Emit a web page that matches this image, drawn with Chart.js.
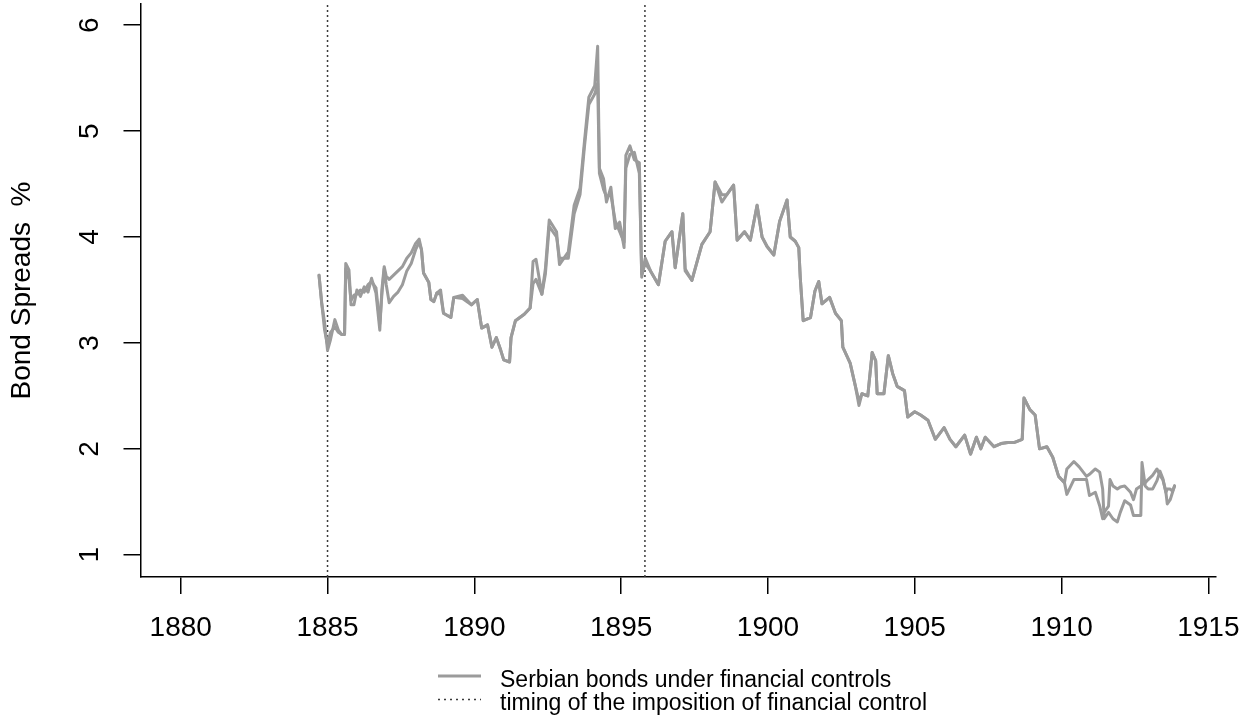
<!DOCTYPE html>
<html>
<head>
<meta charset="utf-8">
<script src="https://cdn.jsdelivr.net/npm/chart.js@4"></script>
<style>
  html, body { margin: 0; padding: 0; background: #fff; }
  canvas { display: block; }
</style>
</head>
<body>
<canvas id="chart" width="1243" height="719"></canvas>
<script>
// dates as decimal years
const years = [
  1884.71, 1884.80, 1884.90, 1885.00, 1885.10, 1885.25, 1885.37, 1885.48, 1885.58, 1885.62,
  1885.73, 1885.80, 1885.90, 1886.00, 1886.12, 1886.25, 1886.38, 1886.50, 1886.65, 1886.78,
  1886.85, 1886.93, 1887.00, 1887.10, 1887.25, 1887.40, 1887.55, 1887.70, 1887.85, 1888.00,
  1888.12, 1888.20, 1888.27, 1888.45, 1888.52, 1888.62, 1888.72, 1888.85, 1888.95, 1889.20,
  1889.30, 1889.60, 1889.90, 1890.10, 1890.25, 1890.45, 1890.60, 1890.75, 1890.90, 1891.00,
  1891.20, 1891.25, 1891.40, 1891.70, 1891.90, 1892.00, 1892.10, 1892.30, 1892.42, 1892.55,
  1892.80, 1892.90, 1893.20, 1893.40, 1893.60, 1893.75, 1893.90, 1894.10, 1894.20, 1894.26,
  1894.40, 1894.50, 1894.65, 1894.80, 1894.95, 1895.10, 1895.16, 1895.30, 1895.45, 1895.62,
  1895.70, 1895.82, 1896.00, 1896.27, 1896.50, 1896.73, 1896.84, 1897.10, 1897.18, 1897.41,
  1897.75, 1898.03, 1898.20, 1898.43, 1898.60, 1898.83, 1898.95, 1899.20, 1899.40, 1899.63,
  1899.80, 1899.97, 1900.20, 1900.40, 1900.65, 1900.76, 1900.93, 1901.05, 1901.10, 1901.20,
  1901.45, 1901.60, 1901.73, 1901.84, 1902.10, 1902.30, 1902.50, 1902.55, 1902.80, 1902.98,
  1903.10, 1903.20, 1903.40, 1903.55, 1903.67, 1903.72, 1903.95, 1904.10, 1904.25, 1904.40,
  1904.65, 1904.76, 1905.00, 1905.20, 1905.45, 1905.70, 1906.00, 1906.20, 1906.40, 1906.70,
  1906.90, 1907.10, 1907.25, 1907.40, 1907.70, 1907.94, 1908.17, 1908.40, 1908.66, 1908.72,
  1908.92, 1909.10, 1909.25, 1909.50, 1909.70, 1909.90, 1910.10, 1910.18, 1910.42, 1910.60,
  1910.85, 1910.95, 1911.15, 1911.30, 1911.40, 1911.45, 1911.60, 1911.65, 1911.75, 1911.90,
  1912.00, 1912.15, 1912.35, 1912.45, 1912.55, 1912.70, 1912.74, 1912.85, 1912.95, 1913.10,
  1913.25, 1913.35, 1913.45, 1913.55, 1913.60, 1913.70, 1913.78, 1913.85
];
// spreads (%) of the two Serbian bonds
const spreadA = [
  3.64, 3.38, 3.19, 2.93, 3.03, 3.22, 3.12, 3.08, 3.08, 3.75,
  3.69, 3.36, 3.36, 3.50, 3.44, 3.53, 3.48, 3.61, 3.47, 3.12,
  3.50, 3.72, 3.63, 3.60, 3.64, 3.68, 3.72, 3.80, 3.85, 3.94,
  3.98, 3.88, 3.66, 3.57, 3.41, 3.39, 3.47, 3.50, 3.28, 3.24,
  3.43, 3.45, 3.36, 3.41, 3.14, 3.17, 2.96, 3.05, 2.93, 2.84,
  2.82, 3.05, 3.21, 3.27, 3.33, 3.77, 3.79, 3.46, 3.70, 4.16,
  4.05, 3.74, 3.86, 4.30, 4.46, 4.90, 5.32, 5.43, 5.80, 4.65,
  4.55, 4.33, 4.47, 4.08, 4.14, 3.90, 4.77, 4.86, 4.73, 4.70,
  3.62, 3.80, 3.68, 3.55, 3.96, 4.05, 3.71, 4.22, 3.68, 3.59,
  3.93, 4.05, 4.52, 4.33, 4.40, 4.49, 3.97, 4.05, 3.97, 4.30,
  4.00, 3.91, 3.83, 4.15, 4.35, 4.00, 3.96, 3.90, 3.62, 3.21,
  3.24, 3.49, 3.58, 3.37, 3.43, 3.28, 3.21, 2.96, 2.81, 2.59,
  2.41, 2.52, 2.50, 2.91, 2.83, 2.52, 2.52, 2.88, 2.71, 2.59,
  2.55, 2.30, 2.35, 2.32, 2.27, 2.09, 2.20, 2.09, 2.02, 2.13,
  1.95, 2.11, 2.00, 2.11, 2.02, 2.05, 2.06, 2.06, 2.09, 2.48,
  2.37, 2.32, 2.00, 2.02, 1.92, 1.74, 1.68, 1.81, 1.88, 1.83,
  1.74, 1.76, 1.81, 1.78, 1.62, 1.34, 1.40, 1.38, 1.34, 1.31,
  1.40, 1.51, 1.47, 1.37, 1.37, 1.37, 1.87, 1.65, 1.62, 1.62,
  1.70, 1.79, 1.72, 1.59, 1.62, 1.62, 1.60, 1.65
];
const spreadB = [
  3.64, 3.38, 3.12, 2.98, 3.10, 3.15, 3.10, 3.08, 3.08, 3.70,
  3.60, 3.40, 3.45, 3.46, 3.50, 3.48, 3.55, 3.58, 3.52, 3.18,
  3.45, 3.70, 3.55, 3.38, 3.44, 3.48, 3.55, 3.68, 3.75, 3.88,
  3.95, 3.88, 3.66, 3.57, 3.41, 3.39, 3.47, 3.46, 3.28, 3.24,
  3.43, 3.42, 3.36, 3.41, 3.14, 3.17, 2.96, 3.05, 2.93, 2.84,
  2.82, 3.05, 3.21, 3.27, 3.33, 3.56, 3.60, 3.46, 3.65, 4.10,
  4.00, 3.80, 3.80, 4.22, 4.40, 4.85, 5.25, 5.35, 5.45, 4.60,
  4.45, 4.38, 4.40, 4.15, 4.05, 3.95, 4.65, 4.78, 4.80, 4.60,
  3.65, 3.75, 3.68, 3.55, 3.96, 4.05, 3.71, 4.22, 3.70, 3.59,
  3.93, 4.05, 4.52, 4.40, 4.40, 4.49, 3.97, 4.05, 3.97, 4.30,
  4.00, 3.91, 3.83, 4.15, 4.35, 4.00, 3.96, 3.90, 3.62, 3.21,
  3.24, 3.49, 3.58, 3.37, 3.43, 3.28, 3.21, 2.96, 2.81, 2.59,
  2.45, 2.52, 2.50, 2.91, 2.83, 2.52, 2.52, 2.88, 2.71, 2.59,
  2.55, 2.30, 2.35, 2.32, 2.27, 2.09, 2.20, 2.09, 2.02, 2.13,
  1.95, 2.11, 2.00, 2.11, 2.02, 2.05, 2.06, 2.06, 2.09, 2.48,
  2.37, 2.32, 2.00, 2.02, 1.92, 1.74, 1.68, 1.57, 1.71, 1.71,
  1.71, 1.56, 1.59, 1.46, 1.34, 1.40, 1.46, 1.71, 1.65, 1.62,
  1.64, 1.65, 1.59, 1.52, 1.62, 1.65, 1.66, 1.68, 1.71, 1.75,
  1.81, 1.75, 1.71, 1.60, 1.48, 1.52, 1.59, 1.65
];
// years when financial control was imposed
const controlYears = [1885.0, 1895.81];

const xTicks = [1880, 1885, 1890, 1895, 1900, 1905, 1910, 1915];
const yTicks = [1, 2, 3, 4, 5, 6];
const X_MIN = 1878.63, X_MAX = 1915.26;
const Y_MIN = 0.79, Y_MAX = 6.2;

const legendLabels = ['Serbian bonds under financial controls', 'timing of the imposition of financial control'];
const FONT = '"Liberation Sans", Arial, sans-serif';
const LINE_GREY = '#9b9b9b';
const DOT_COLOR = '#3a3a3a';

const toPoints = (vals) => years.map((x, i) => ({ x: x, y: vals[i] }));

const datasets = [
  { data: toPoints(spreadA), borderColor: LINE_GREY, borderWidth: 3, pointRadius: 0,
    borderJoinStyle: 'round', borderCapStyle: 'round', tension: 0 },
  { data: toPoints(spreadB), borderColor: LINE_GREY, borderWidth: 3, pointRadius: 0,
    borderJoinStyle: 'round', borderCapStyle: 'round', tension: 0 }
];
controlYears.forEach(yr => {
  datasets.push({
    data: [{ x: yr, y: Y_MIN }, { x: yr, y: Y_MAX }],
    borderColor: DOT_COLOR, borderWidth: 1.5, borderDash: [2, 3],
    pointRadius: 0, tension: 0
  });
});

// y tick labels rotated like R's axis(2), plus the legend under the plot
const extras = {
  id: 'extras',
  afterDraw(chart) {
    const ctx = chart.ctx;
    const ys = chart.scales.y;
    ctx.save();
    ctx.fillStyle = '#000';
    ctx.font = '28px ' + FONT;
    ctx.textAlign = 'center';
    ctx.textBaseline = 'middle';
    yTicks.forEach(v => {
      ctx.save();
      ctx.translate(90, ys.getPixelForValue(v));
      ctx.rotate(-Math.PI / 2);
      ctx.fillText(String(v), 0, 0);
      ctx.restore();
    });

    // legend
    ctx.lineWidth = 3;
    ctx.strokeStyle = LINE_GREY;
    ctx.beginPath();
    ctx.moveTo(438, 676);
    ctx.lineTo(481, 676);
    ctx.stroke();
    ctx.lineWidth = 1.5;
    ctx.strokeStyle = DOT_COLOR;
    ctx.setLineDash([2, 4]);
    ctx.beginPath();
    ctx.moveTo(438, 699.5);
    ctx.lineTo(481, 699.5);
    ctx.stroke();
    ctx.setLineDash([]);
    ctx.font = '23px ' + FONT;
    ctx.textAlign = 'left';
    ctx.textBaseline = 'alphabetic';
    ctx.fillText(legendLabels[0], 500, 687);
    ctx.fillText(legendLabels[1], 500, 710);
    ctx.restore();
  }
};

new Chart(document.getElementById('chart'), {
  type: 'line',
  data: { datasets: datasets },
  options: {
    responsive: false,
    animation: false,
    devicePixelRatio: 1,
    layout: { padding: { top: 4, right: 27, bottom: 0, left: 0 } },
    plugins: { legend: { display: false }, tooltip: { enabled: false } },
    scales: {
      x: {
        type: 'linear',
        min: X_MIN,
        max: X_MAX,
        afterFit: (s) => { s.height = 142; s.paddingLeft = 0; s.paddingRight = 0; },
        afterBuildTicks: (s) => { s.ticks = xTicks.map(v => ({ value: v })); },
        ticks: { color: '#000', font: { family: FONT, size: 28 }, padding: 17,
                 autoSkip: false, maxRotation: 0, callback: (v) => String(v) },
        grid: { drawOnChartArea: false, drawTicks: true, tickLength: 17, color: '#000', lineWidth: 1.5 },
        border: { display: true, color: '#000', width: 1.5 }
      },
      y: {
        type: 'linear',
        min: Y_MIN,
        max: Y_MAX,
        afterFit: (s) => { s.width = 140.5; },
        afterBuildTicks: (s) => { s.ticks = yTicks.map(v => ({ value: v })); },
        ticks: { display: false },
        title: { display: true, text: 'Bond Spreads  %', color: '#000',
                 font: { family: FONT, size: 28 }, padding: { top: 5, bottom: 0 } },
        grid: { drawOnChartArea: false, drawTicks: true, tickLength: 17, color: '#000', lineWidth: 1.5 },
        border: { display: true, color: '#000', width: 1.5 }
      }
    }
  },
  plugins: [extras]
});
</script>
</body>
</html>
